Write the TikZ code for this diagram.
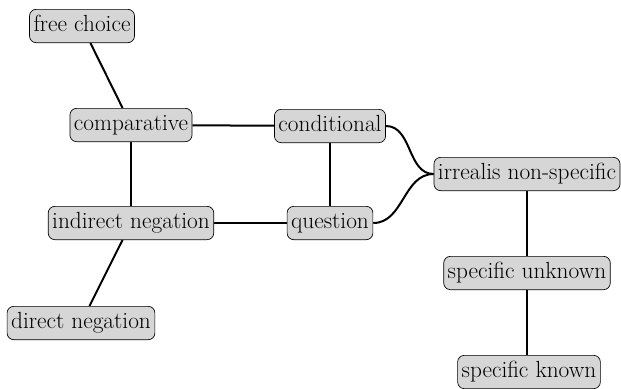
\documentclass[tikz,border=0pt]{standalone}
\usepackage{fontspec}
\usetikzlibrary{backgrounds}

\tikzset{
  sense/.style={draw, rectangle, rounded corners=5pt, fill=gray!32, line width=0.5pt,
    font=\fontsize{17.5}{20}\selectfont, inner xsep=3pt, minimum height=25pt,
    text height=12pt, text depth=3.5pt},
  link/.style={line width=1.5pt}
}

\begin{document}
\begin{tikzpicture}[x=0.75pt, y=-0.75pt]
  \useasboundingbox (0,0) rectangle (621,389);

  \node[sense] (freechoice) at (82,26) {free choice};
  \node[sense] (comparative) at (131,125) {comparative};
  \node[sense] (conditional) at (330,126) {conditional};
  \node[sense] (irrealis) at (527,174) {irrealis non-specific};
  \node[sense] (indneg) at (131,223) {indirect negation};
  \node[sense] (question) at (330,223) {question};
  \node[sense] (dirneg) at (81,323) {direct negation};
  \node[sense] (specunknown) at (527,273) {specific unknown};
  \node[sense] (specknown) at (529,372) {specific known};

  \begin{scope}[on background layer]
    \draw[link] (freechoice) -- (comparative);
    \draw[link] (comparative) -- (conditional);
    \draw[link] (comparative) -- (indneg);
    \draw[link] (conditional) -- (question);
    \draw[link] (indneg) -- (question);
    \draw[link] (indneg) -- (dirneg);
    \draw[link] (conditional.east) to[out=0, in=180] (irrealis.west);
    \draw[link] (question.east) to[out=0, in=180] (irrealis.west);
    \draw[link] (irrealis) -- (specunknown);
    \draw[link] (specunknown.south) -- (specknown.north -| specunknown.south);
  \end{scope}
\end{tikzpicture}
\end{document}
